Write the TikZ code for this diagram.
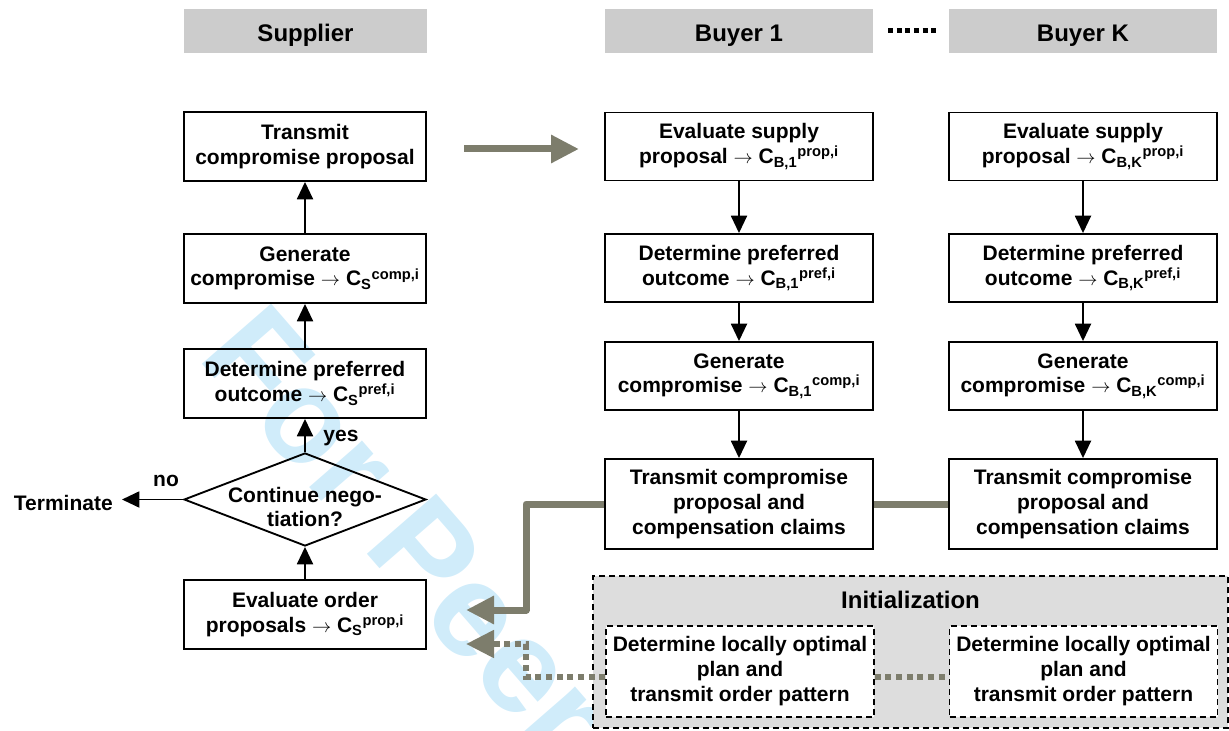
\documentclass[tikz,border=0pt]{standalone}
\usepackage{fontspec}
\setmainfont{Liberation Sans}
\usetikzlibrary{arrows.meta,shapes.geometric}
\definecolor{hdrgray}{RGB}{204,204,204}
\definecolor{inigray}{RGB}{221,221,221}
\definecolor{garrow}{RGB}{125,125,108}
\definecolor{wmblue}{RGB}{208,236,250}
\newcommand{\bodyf}{\fontsize{15.75}{18.5}\selectfont\bfseries}
\newcommand{\hdrf}{\fontsize{18}{21}\selectfont\bfseries}
\newcommand{\Cvar}[2]{C\textsubscript{#1}\textsuperscript{#2}}
\newcommand{\rarr}{\ $\rightarrow$\ }
\tikzset{
  txt/.style={inner sep=0pt, align=center, font=\bodyf},
  box/.style={draw, line width=1.4pt, inner sep=0pt, align=center, font=\bodyf},
  sbox/.style={box, minimum width=181.5pt, minimum height=51.75pt},
  bbox/.style={box, minimum width=201pt, minimum height=51pt},
  tbox/.style={box, minimum width=201pt, minimum height=67.5pt, font=\fontsize{15.75}{18.75}\selectfont\bfseries},
  hdr/.style={fill=hdrgray, inner sep=0pt, minimum height=33pt, text height=16.5pt, text depth=0pt, font=\hdrf},
  ibox/.style={draw, dash pattern=on 4.5pt off 3pt, line width=1.2pt, fill=white, inner sep=0pt, align=center, font=\fontsize{15.75}{18.75}\selectfont\bfseries, minimum width=201pt, minimum height=68.25pt},
  blk/.style={line width=1.4pt, -{Triangle[length=13pt,width=12pt]}},
  garr/.style={draw=garrow, line width=5.25pt, line join=round, -{Triangle[length=21pt,width=20pt]}},
  gline/.style={draw=garrow, line width=5.25pt},
  gdot/.style={draw=garrow, line width=4.5pt, dash pattern=on 4.5pt off 3.5pt, -{Triangle[length=21pt,width=20pt]}},
  gdotline/.style={draw=garrow, line width=4.5pt, dash pattern=on 4.5pt off 3.5pt},
}
\begin{document}
\begin{tikzpicture}[x=0.75pt,y=-0.75pt]
\useasboundingbox (0,0) rectangle (1229,731);
% watermark
\begin{scope}
\clip (0,0) rectangle (1229,731);
\node[anchor=base west, rotate=-49, inner sep=0pt, text=wmblue, font=\fontsize{100}{100}\selectfont\bfseries] (wm) at (196,357) {For Peer Review};
\end{scope}

% headers
\node[hdr, minimum width=182.25pt] (sH) at (305.5,31) {Supplier};
\node[hdr, minimum width=201pt] (b1H) at (739,31) {Buyer 1};
\node[hdr, minimum width=201pt] (bKH) at (1083,31) {Buyer K};
\draw[line width=3.75pt, dash pattern=on 3.75pt off 2.7pt] ([xshift=11.25pt]b1H.east) -- ([xshift=-9pt]bKH.west);

% supplier column
\node[sbox] (sT) at (305,146.5) {Transmit\\compromise proposal};
\node[sbox] (sG) at (305,268.5) {Generate\\compromise\rarr\Cvar{S}{comp,i}};
\node[sbox] (sD) at (305,383.5) {Determine preferred\\outcome\rarr\Cvar{S}{pref,i}};
\node[diamond, draw, line width=1.4pt, minimum width=181.5pt, minimum height=69.75pt, inner sep=0pt] (dia) at (305,499.5) {};
\node[txt] (diaT) at (305,507) {Continue nego-\\tiation?};
\node[sbox] (sE) at (305,614.5) {Evaluate order\\proposals\rarr\Cvar{S}{prop,i}};
\node[txt, anchor=east] (term) at (113,503) {Terminate};
\node[txt] (no) at (166,481) {no};
\node[txt] (yes) at (341,438) {yes};

\draw[blk] (sE.north) -- (dia.south);
\draw[blk] (dia.north) -- (sD.south);
\draw[blk] (sD.north) -- (sG.south);
\draw[blk] (sG.north) -- (sT.south);
\draw[blk] (dia.west) -- ([xshift=6.75pt]term.east |- dia.west);

% buyer 1 column
\node[bbox] (b1E) at (739,146.5) {Evaluate supply\\proposal\rarr\Cvar{B,1}{prop,i}};
\node[bbox] (b1D) at (739,268) {Determine preferred\\outcome\rarr\Cvar{B,1}{pref,i}};
\node[bbox] (b1G) at (739,376) {Generate\\compromise\rarr\Cvar{B,1}{comp,i}};
\node[tbox] (b1T) at (739,504) {Transmit compromise\\proposal and\\compensation claims};
\draw[blk] (b1E.south) -- (b1D.north);
\draw[blk] (b1D.south) -- (b1G.north);
\draw[blk] (b1G.south) -- (b1T.north);

% buyer K column
\node[bbox] (bKE) at (1083,146.5) {Evaluate supply\\proposal\rarr\Cvar{B,K}{prop,i}};
\node[bbox] (bKD) at (1083,268) {Determine preferred\\outcome\rarr\Cvar{B,K}{pref,i}};
\node[bbox] (bKG) at (1083,376) {Generate\\compromise\rarr\Cvar{B,K}{comp,i}};
\node[tbox] (bKT) at (1083,504) {Transmit compromise\\proposal and\\compensation claims};
\draw[blk] (bKE.south) -- (bKD.north);
\draw[blk] (bKD.south) -- (bKG.north);
\draw[blk] (bKG.south) -- (bKT.north);

% initialization
\node[draw, fill=inigray, dash pattern=on 4.5pt off 3pt, line width=1.2pt, minimum width=476.25pt, minimum height=114pt, inner sep=0pt] (init) at (910.5,652) {};
\node[txt, font=\hdrf] (initT) at (910.5,600) {Initialization};
\node[ibox] (i1) at (740,671.5) {Determine locally optimal\\plan and\\transmit order pattern};
\node[ibox] (iK) at (1083.5,671.5) {Determine locally optimal\\plan and\\transmit order pattern};

% gray connectors
\coordinate (gaS) at (464,149);
\coordinate (gaE) at (579,149);
\draw[garr] (gaS) -- (gaE);
\coordinate (bend) at (526,0);
\coordinate (tipA) at (466,610);
\coordinate (tipB) at (466,644);
\coordinate (i1w) at ([yshift=-4.1pt]i1.west);
\coordinate (i1e) at ([yshift=-4.1pt]i1.east);
\coordinate (iKw) at ([yshift=-4.1pt]iK.west);
\draw[garr] (b1T.west) -- (bend |- b1T.west) -- (bend |- tipA) -- (tipA);
\draw[gline] (b1T.east) -- (bKT.west);
\draw[gdot] (i1w) -- (bend |- i1w) -- (bend |- tipB) -- (tipB);
\draw[gdotline] (i1e) -- (iKw);
\end{tikzpicture}
\end{document}
